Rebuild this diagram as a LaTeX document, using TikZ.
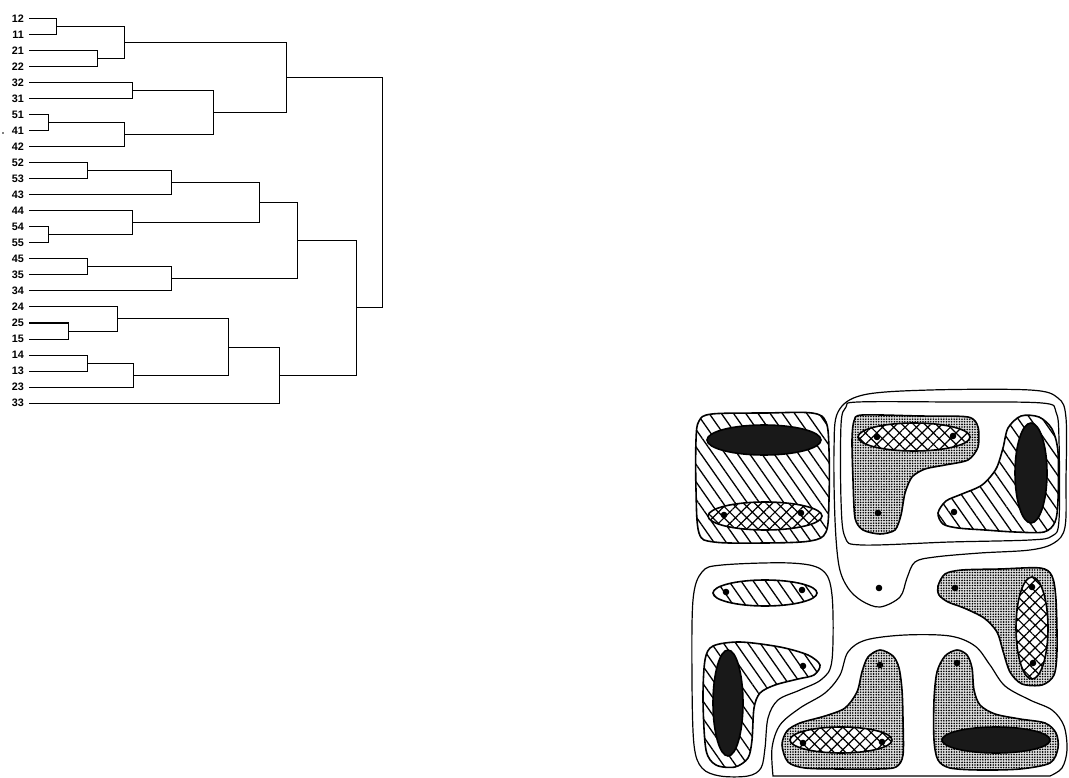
\documentclass[tikz,border=0pt]{standalone}
\usepackage{fontspec}
\setmainfont{Liberation Sans}
\usetikzlibrary{patterns.meta}
\begin{document}
\begin{tikzpicture}[x=1pt,y=-1pt,
  tree/.style={line width=1pt, line join=miter},
  leaf/.style={anchor=east, inner sep=0pt, font=\bfseries\fontsize{10.8}{12}\selectfont},
  contour/.style={draw, line width=1.2pt},
  blob/.style={draw, line width=1.6pt},
  hatchA/.style={pattern={Lines[angle=-55,distance=10pt,line width=1.3pt]}},
  cross/.style={preaction={fill=white}, pattern={Hatch[angle=45,distance=8pt,line width=1.2pt]}},
  stip/.style={preaction={fill=gray!25}, pattern={Dots[distance=2.6pt,radius=0.9pt]}},
  inkh/.style={fill=black!90},
  inkv/.style={fill=black!90},
  spot/.style={fill=black}
]
\useasboundingbox (0,0) rectangle (1069,778);

% ---------------- dendrogram leaves ----------------
\foreach \lab/\yy in {12/19,11/35,21/51,22/67,32/83,31/99,51/115,41/131,42/147,
  52/163,53/179,43/195,44/211,54/227,55/243,45/259,35/275,34/291,
  24/307,25/323,15/339,14/355,13/371,23/387,33/403}{
  \node[leaf] (n\lab) at (24,\yy) {\lab};
  \coordinate (c\lab) at (29,\yy);
}
\fill (3,133) circle [radius=0.9];

% cluster points
\coordinate (A) at (56,27);
\coordinate (B) at (97,59);
\coordinate (C) at (124,43);
\coordinate (D) at (132,91);
\coordinate (E) at (48,123);
\coordinate (F) at (124,135);
\coordinate (G) at (213,113);
\coordinate (H) at (286,78);
\coordinate (I) at (87,171);
\coordinate (J) at (171,183);
\coordinate (K) at (48,235);
\coordinate (L) at (132,223);
\coordinate (M) at (259,203);
\coordinate (N) at (87,267);
\coordinate (O) at (171,279);
\coordinate (P) at (297,241);
\coordinate (Q) at (68,331);
\coordinate (R) at (117,319);
\coordinate (S) at (87,363);
\coordinate (T) at (133,375);
\coordinate (U) at (228,347);
\coordinate (V) at (279,375);
\coordinate (W) at (356,308);
\coordinate (X) at (382,193);

\begin{scope}[tree]
\draw (c12) -- (c12 -| A) -- (c11 -| A) -- (c11);
\draw (c21) -- (c21 -| B) -- (c22 -| B) -- (c22);
\draw (A) -- (A -| C) -- (B -| C) -- (B);
\draw (c32) -- (c32 -| D) -- (c31 -| D) -- (c31);
\draw (c51) -- (c51 -| E) -- (c41 -| E) -- (c41);
\draw (E) -- (E -| F) -- (c42 -| F) -- (c42);
\draw (D) -- (D -| G) -- (F -| G) -- (F);
\draw (C) -- (C -| H) -- (G -| H) -- (G);
\draw (c52) -- (c52 -| I) -- (c53 -| I) -- (c53);
\draw (I) -- (I -| J) -- (c43 -| J) -- (c43);
\draw (c54) -- (c54 -| K) -- (c55 -| K) -- (c55);
\draw (c44) -- (c44 -| L) -- (K -| L) -- (K);
\draw (J) -- (J -| M) -- (L -| M) -- (L);
\draw (c45) -- (c45 -| N) -- (c35 -| N) -- (c35);
\draw (N) -- (N -| O) -- (c34 -| O) -- (c34);
\draw (M) -- (M -| P) -- (O -| P) -- (O);
\draw (c25) -- (c25 -| Q) -- (c15 -| Q) -- (c15);
\draw (c24) -- (c24 -| R) -- (Q -| R) -- (Q);
\draw (c14) -- (c14 -| S) -- (c13 -| S) -- (c13);
\draw (S) -- (S -| T) -- (c23 -| T) -- (c23);
\draw (R) -- (R -| U) -- (T -| U) -- (T);
\draw (U) -- (U -| V) -- (c33 -| V) -- (c33);
\draw (P) -- (P -| W) -- (V -| W) -- (V);
\draw (H) -- (H -| X) -- (W -| X) -- (W);
\end{scope}

% ---------------- cluster map ----------------
% top-left block
\draw[blob, hatchA] plot[smooth cycle, tension=0.55] coordinates {
  (712,414) (765,413) (812,413) (826,422) (829,450) (829,500) (826,532)
  (810,541) (765,543) (714,542) (699,533) (696,490) (696,440) (699,421)};
\draw[blob, inkh] (764,440) ellipse [x radius=57, y radius=15];
\draw[blob, cross] (765,516) ellipse [x radius=57, y radius=14];
\fill[spot] (724,515) circle [radius=3.3];
\fill[spot] (801,513) circle [radius=3.3];

% upper-right group: outer contour with lobe
\draw[contour] plot[smooth cycle, tension=0.55] coordinates {
  (863,395) (930,390) (1030,390) (1058,398) (1066,418) (1066,480) (1065,527)
  (1054,543) (1030,550) (980,553) (935,557) (915,562) (907,578) (900,597)
  (880,607) (862,601) (848,588) (839,566) (835,520) (834,450) (838,412)};
% inner contour
\draw[contour] plot[smooth cycle, tension=0.55] coordinates {
  (858,402) (950,402) (1042,403) (1056,412) (1059,440) (1059,520) (1052,536)
  (1030,540) (950,542) (862,545) (845,537) (841,500) (841,425) (846,407)};
% stippled L
\draw[blob, stip] plot[smooth cycle, tension=0.45] coordinates {
  (862,415) (920,416) (968,417) (978,427) (978,447) (968,460) (945,465)
  (925,469) (912,477) (905,493) (901,515) (895,530) (880,534) (863,530)
  (855,518) (853,480) (852,440) (854,421)};
\draw[blob, cross] (914,437) ellipse [x radius=56, y radius=14];
\fill[spot] (877,437) circle [radius=3.3];
\fill[spot] (953,436) circle [radius=3.3];
\fill[spot] (878,513) circle [radius=3.3];
% hatched blob with dark ellipse
\draw[blob, hatchA] plot[smooth cycle, tension=0.5] coordinates {
  (938,513) (946,501) (962,494) (982,485) (996,469) (1003,448) (1008,428)
  (1021,416) (1039,417) (1052,429) (1058,452) (1058,500) (1055,522)
  (1044,532) (1015,532) (985,530) (958,528) (943,524)};
\draw[blob, inkv] (1031,473) ellipse [x radius=16, y radius=50];
\fill[spot] (954,512) circle [radius=3.3];
% central point
\fill[spot] (879,588) circle [radius=3.3];

% right-middle stippled blob
\draw[blob, stip] plot[smooth cycle, tension=0.5] coordinates {
  (938,586) (945,574) (962,570) (1000,569) (1040,568) (1052,576) (1056,600)
  (1057,650) (1054,675) (1042,685) (1022,684) (1010,672) (1003,651)
  (997,632) (984,618) (964,608) (948,602) (939,595)};
\draw[blob, cross] (1032,628) ellipse [x radius=16, y radius=51];
\fill[spot] (955,588) circle [radius=3.3];
\fill[spot] (1032,587) circle [radius=3.3];
\fill[spot] (1033,663) circle [radius=3.3];

% left group contour
\draw[contour] plot[smooth cycle, tension=0.55] coordinates {
  (722,565) (790,563) (822,570) (832,595) (832,660) (822,679) (800,690)
  (778,700) (768,718) (765,748) (761,768) (748,776) (720,776) (702,768)
  (694,745) (692,680) (693,600) (702,572)};
\draw[blob, hatchA] (765,593) ellipse [x radius=52, y radius=13];
\fill[spot] (726,592) circle [radius=3.3];
\fill[spot] (802,590) circle [radius=3.3];
\draw[blob, hatchA] plot[smooth cycle, tension=0.5] coordinates {
  (713,646) (740,642) (780,647) (808,655) (820,665) (814,675) (798,679)
  (775,685) (760,693) (754,708) (752,740) (748,758) (735,767) (716,765)
  (706,750) (703,700) (705,660)};
\draw[blob, inkv] (728,703) ellipse [x radius=15, y radius=53];
\fill[spot] (803,666) circle [radius=3.3];

% bottom group contour
\draw[contour] plot[smooth, tension=0.55] coordinates {
  (773,776) (772,748) (780,725) (800,708) (825,693) (840,675) (848,652)
  (866,640) (905,635) (950,636) (975,646) (990,665) (1005,686) (1030,700)
  (1052,710) (1064,726) (1067,750) (1062,768) (1050,776)} -- cycle;
% bottom-left stippled blob
\draw[blob, stip] plot[smooth cycle, tension=0.5] coordinates {
  (880,650) (893,656) (899,668) (902,690) (903,720) (903,755) (896,767)
  (878,769) (840,769) (805,768) (788,762) (782,745) (787,731) (800,723)
  (825,716) (845,708) (857,692) (862,672) (868,657)};
\draw[blob, cross] (841,740) ellipse [x radius=51, y radius=13];
\fill[spot] (880,665) circle [radius=3.3];
\fill[spot] (803,743) circle [radius=3.3];
\fill[spot] (882,742) circle [radius=3.3];
% bottom-right stippled blob
\draw[blob, stip] plot[smooth cycle, tension=0.5] coordinates {
  (957,650) (967,655) (972,668) (974,690) (980,705) (995,714) (1020,719)
  (1045,723) (1056,733) (1058,748) (1050,763) (1020,769) (980,770)
  (950,768) (938,760) (934,740) (934,700) (937,672) (945,656)};
\draw[blob, inkh] (996,740) ellipse [x radius=54, y radius=13];
\fill[spot] (957,663) circle [radius=3.3];
\end{tikzpicture}
\end{document}
